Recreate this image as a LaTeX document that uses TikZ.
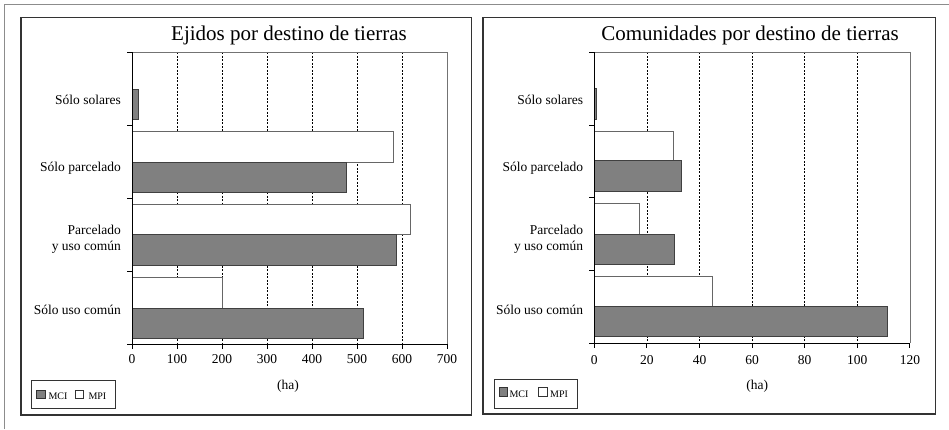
\documentclass[tikz,border=0pt]{standalone}
\usepackage{fontspec}
\setmainfont{Liberation Serif}
\begin{document}
\begin{tikzpicture}[x=1pt,y=-1pt,
  outerframe/.style={draw=black!45, line width=1.3pt},
  panelbox/.style={draw=black!80, line width=1.3pt},
  gridline/.style={draw=black, line width=0.6pt, dash pattern=on 2pt off 1.5pt},
  plotframe/.style={draw=black!55, line width=1pt},
  axisline/.style={draw=black, line width=1pt},
  mcibar/.style={fill=black!50, draw=black!75, line width=0.9pt},
  mpibar/.style={fill=white, draw=black!60, line width=0.9pt},
  titletext/.style={font=\fontsize{21}{24}\selectfont, anchor=base, inner sep=0pt},
  cattext/.style={font=\fontsize{13.5}{15}\selectfont, anchor=base east, inner sep=0pt},
  ticktext/.style={font=\fontsize{13.5}{15}\selectfont, anchor=base, inner sep=0pt},
  legbox/.style={draw=black!80, line width=0.9pt, fill=white},
  legsq/.style={draw=black!80, line width=0.7pt},
  legtext/.style={font=\fontsize{10}{12}\selectfont, anchor=base west, inner sep=0pt},
  ]
\useasboundingbox (0,0) rectangle (949,429);
\fill[white] (0,0) rectangle (949,429);
\draw[outerframe] (4.7,429) -- (4.7,4.7) -- (949,4.7);

% ================= Left panel =================
\draw[panelbox] (21,17.5) rectangle (471.7,415);
\node[titletext] (ltitle) at (289,40) {Ejidos por destino de tierras};
\foreach \v in {100,200,...,600}
  \draw[gridline] ({132+0.45*\v},52) -- ({132+0.45*\v},344);
% bars
\draw[mcibar] (132,89) rectangle ({132+0.45*14},119.3);
\draw[mpibar] (132,131) rectangle ({132+0.45*580},162);
\draw[mcibar] (132,162) rectangle ({132+0.45*477},192.3);
\draw[mpibar] (132,204.3) rectangle ({132+0.45*619},234.8);
\draw[mcibar] (132,234.8) rectangle ({132+0.45*588},265.3);
\draw[mpibar] (132,277.7) rectangle ({132+0.45*200},308.2);
\draw[mcibar] (132,308.2) rectangle ({132+0.45*515},338.3);
% frame and axes
\draw[plotframe] (132,52) -- (447,52) -- (447,344);
\draw[axisline] (132,52) -- (132,344) -- (447,344);
\foreach \k in {0,...,4}
  \draw[axisline] (127,{52+73*\k}) -- (132,{52+73*\k});
\foreach \v in {0,100,...,700} {
  \draw[axisline] ({132+0.45*\v},344) -- ({132+0.45*\v},349);
  \node[ticktext] (lx\v) at ({132+0.45*\v},363) {\v};
}
\node[cattext] (lc1) at (121,104.5) {Sólo solares};
\node[cattext] (lc2) at (121,171) {Sólo parcelado};
\node[cattext] (lc3a) at (121,234.5) {Parcelado};
\node[cattext] (lc3b) at (121,250) {y uso común};
\node[cattext] (lc4) at (121,314) {Sólo uso común};
\node[ticktext] (lha) at (288,389.5) {(ha)};
% legend
\draw[legbox] (31.7,380.7) rectangle (115,408.3);
\draw[legsq, fill=black!50] (36.7,390) rectangle (45.7,398.7);
\node[legtext] (lmci) at (48.3,399) {MCI};
\draw[legsq, fill=white] (75,390) rectangle (83.7,398.7);
\node[legtext] (lmpi) at (88.3,399) {MPI};

% ================= Right panel =================
\draw[panelbox] (483,17.5) rectangle (935.7,414);
\node[titletext] (rtitle) at (750,40) {Comunidades por destino de tierras};
\foreach \v in {20,40,...,100}
  \draw[gridline] ({594.3+2.63*\v},52.3) -- ({594.3+2.63*\v},343);
% bars
\draw[mcibar] (594.3,88.6) rectangle ({594.3+2.63*1},119.3);
\draw[mpibar] (594.3,131) rectangle ({594.3+2.63*30},160.5);
\draw[mcibar] (594.3,160.5) rectangle ({594.3+2.63*33},191);
\draw[mpibar] (594.3,203.5) rectangle ({594.3+2.63*17},234);
\draw[mcibar] (594.3,234) rectangle ({594.3+2.63*30.3},264.3);
\draw[mpibar] (594.3,276) rectangle ({594.3+2.63*45},306);
\draw[mcibar] (594.3,306) rectangle ({594.3+2.63*111.4},336.7);
% frame and axes
\draw[plotframe] (594.3,52.3) -- (910,52.3) -- (910,343);
\draw[axisline] (594.3,52.3) -- (594.3,343) -- (910,343);
\foreach \k in {0,...,4}
  \draw[axisline] (589.3,{52.3+72.7*\k}) -- (594.3,{52.3+72.7*\k});
\foreach \v in {0,20,...,120} {
  \draw[axisline] ({594.3+2.63*\v},343) -- ({594.3+2.63*\v},348);
  \node[ticktext] (rx\v) at ({594.3+2.63*\v},364) {\v};
}
\node[cattext] (rc1) at (583.3,104.5) {Sólo solares};
\node[cattext] (rc2) at (583.3,171) {Sólo parcelado};
\node[cattext] (rc3a) at (583.3,234.5) {Parcelado};
\node[cattext] (rc3b) at (583.3,250) {y uso común};
\node[cattext] (rc4) at (583.3,314) {Sólo uso común};
\node[ticktext] (rha) at (757.3,389.5) {(ha)};
% legend
\draw[legbox] (494,379.3) rectangle (577.7,408.3);
\draw[legsq, fill=black!50] (499.3,387.7) rectangle (507.3,396.7);
\node[legtext] (rmci) at (509.3,397.3) {MCI};
\draw[legsq, fill=white] (538.3,387.7) rectangle (547.3,396.7);
\node[legtext] (rmpi) at (550,397.3) {MPI};
\end{tikzpicture}
\end{document}
